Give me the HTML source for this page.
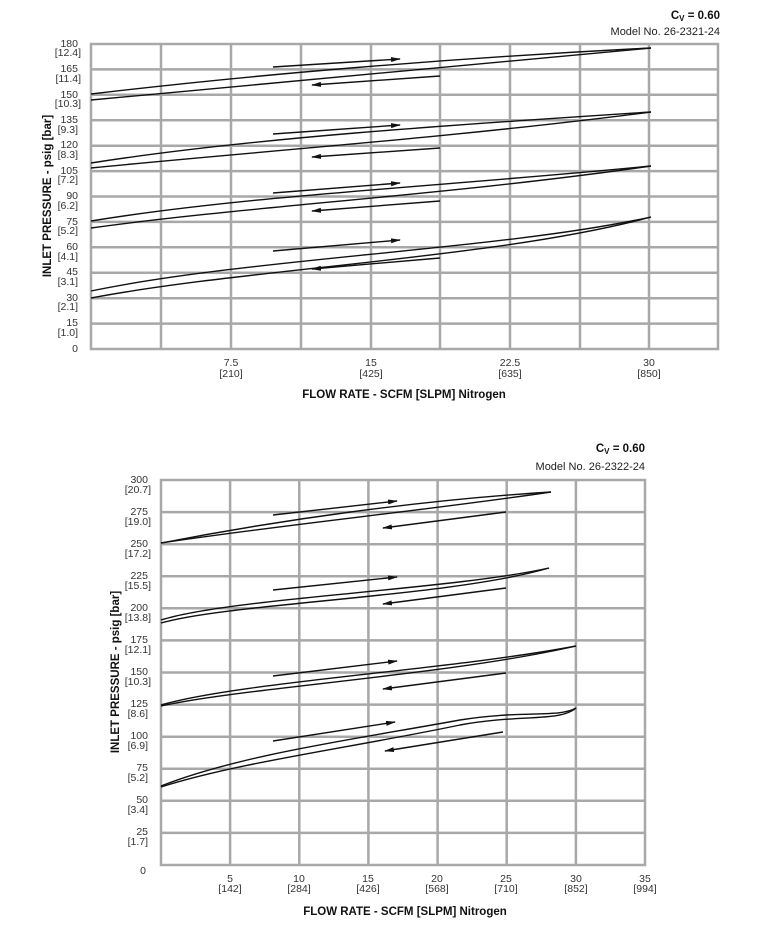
<!DOCTYPE html>
<html><head><meta charset="utf-8"><style>
html,body{margin:0;padding:0;background:#fff;}
svg{display:block;font-family:"Liberation Sans",Arial,sans-serif;}
.g{stroke:#a8a8a8;stroke-width:2.5;fill:none}
.c{stroke:#111;stroke-width:1.4;fill:none}
.t{font-size:10.5px;fill:#333;text-anchor:end}
.x{font-size:10.5px;fill:#333;text-anchor:middle}
.b{font-weight:bold;font-size:11.5px;fill:#111}
</style></head><body>
<svg width="765" height="951" viewBox="0 0 765 951">
<defs><marker id="a" markerWidth="10" markerHeight="6" refX="9" refY="3" orient="auto" markerUnits="userSpaceOnUse"><path d="M0,0.5 L10,3 L0,5.5 Z" fill="#111"/></marker></defs>

<!-- TOP CHART -->
<text x="720" y="19" class="b" text-anchor="end">C<tspan font-size="8" dy="2">V</tspan><tspan dy="-2"> = 0.60</tspan></text>
<text x="720" y="35" font-size="11" fill="#222" text-anchor="end">Model No. 26-2321-24</text>
<g class="g">
<rect x="91" y="44" width="627" height="305"/>
<path d="M161,44V349M231,44V349M301,44V349M371,44V349M440,44V349M510,44V349M580,44V349M649,44V349"/>
<path d="M91,69.4H718M91,94.8H718M91,120.2H718M91,145.7H718M91,171.1H718M91,196.5H718M91,221.9H718M91,247.3H718M91,272.7H718M91,298.2H718M91,323.6H718"/>
</g>
<g class="t">
<text x="78" y="47">180</text><text x="81" y="56">[12.4]</text>
<text x="78" y="72">165</text><text x="81" y="82">[11.4]</text>
<text x="78" y="98">150</text><text x="81" y="107">[10.3]</text>
<text x="78" y="123">135</text><text x="78" y="133">[9.3]</text>
<text x="78" y="148">120</text><text x="78" y="158">[8.3]</text>
<text x="78" y="174">105</text><text x="78" y="183">[7.2]</text>
<text x="78" y="199">90</text><text x="78" y="209">[6.2]</text>
<text x="78" y="225">75</text><text x="78" y="234">[5.2]</text>
<text x="78" y="250">60</text><text x="78" y="260">[4.1]</text>
<text x="78" y="275">45</text><text x="78" y="285">[3.1]</text>
<text x="78" y="301">30</text><text x="78" y="310">[2.1]</text>
<text x="78" y="326">15</text><text x="78" y="336">[1.0]</text>
<text x="78" y="352">0</text>
</g>
<g class="x">
<text x="231" y="366">7.5</text><text x="231" y="377">[210]</text>
<text x="371" y="366">15</text><text x="371" y="377">[425]</text>
<text x="510" y="366">22.5</text><text x="510" y="377">[635]</text>
<text x="649" y="366">30</text><text x="649" y="377">[850]</text>
</g>
<text x="404" y="398" class="b" text-anchor="middle">FLOW RATE - SCFM [SLPM] Nitrogen</text>
<text transform="translate(51,196) rotate(-90)" class="b" text-anchor="middle">INLET PRESSURE - psig [bar]</text>
<g class="c">
<path d="M91,94 C250,75 450,58 651,48"/><path d="M91,100 C250,84 450,66 651,48"/>
<path d="M91,163 C250,138 450,125 651,112"/><path d="M91,168 C250,152 450,138 651,112"/>
<path d="M91,221 C250,195 450,186 651,166"/><path d="M91,228 C250,206 450,195 651,166"/>
<path d="M91,291 C250,258 500,250 651,217"/><path d="M91,298 C250,268 500,258 651,217"/>
<g marker-end="url(#a)">
<path d="M273,67L400,59"/><path d="M440,76L312,85"/>
<path d="M273,134L400,125"/><path d="M440,148L312,157"/>
<path d="M273,193L400,183"/><path d="M440,201L312,211"/>
<path d="M273,251L400,240"/><path d="M440,258L312,269"/>
</g></g>

<!-- BOTTOM CHART -->
<text x="645" y="452" class="b" text-anchor="end">C<tspan font-size="8" dy="2">V</tspan><tspan dy="-2"> = 0.60</tspan></text>
<text x="645" y="470" font-size="11" fill="#222" text-anchor="end">Model No. 26-2322-24</text>
<g class="g">
<rect x="161" y="480" width="484" height="385"/>
<path d="M230.1,480V865M299.3,480V865M368.4,480V865M437.6,480V865M506.7,480V865M575.9,480V865"/>
<path d="M161,512.1H645M161,544.2H645M161,576.3H645M161,608.3H645M161,640.4H645M161,672.5H645M161,704.6H645M161,736.7H645M161,768.8H645M161,800.8H645M161,832.9H645"/>
</g>
<g class="t">
<text x="148" y="483">300</text><text x="151" y="493">[20.7]</text>
<text x="148" y="515">275</text><text x="151" y="525">[19.0]</text>
<text x="148" y="547">250</text><text x="151" y="557">[17.2]</text>
<text x="148" y="579">225</text><text x="151" y="589">[15.5]</text>
<text x="148" y="611">200</text><text x="151" y="621">[13.8]</text>
<text x="148" y="643">175</text><text x="151" y="653">[12.1]</text>
<text x="148" y="675">150</text><text x="151" y="685">[10.3]</text>
<text x="148" y="707">125</text><text x="148" y="717">[8.6]</text>
<text x="148" y="739">100</text><text x="148" y="749">[6.9]</text>
<text x="148" y="771">75</text><text x="148" y="781">[5.2]</text>
<text x="148" y="803">50</text><text x="148" y="813">[3.4]</text>
<text x="148" y="835">25</text><text x="148" y="845">[1.7]</text>
<text x="146" y="874">0</text>
</g>
<g class="x">
<text x="230" y="882">5</text><text x="230" y="892">[142]</text>
<text x="299" y="882">10</text><text x="299" y="892">[284]</text>
<text x="368" y="882">15</text><text x="368" y="892">[426]</text>
<text x="437" y="882">20</text><text x="437" y="892">[568]</text>
<text x="506" y="882">25</text><text x="506" y="892">[710]</text>
<text x="576" y="882">30</text><text x="576" y="892">[852]</text>
<text x="645" y="882">35</text><text x="645" y="892">[994]</text>
</g>
<text x="405" y="915" class="b" text-anchor="middle">FLOW RATE - SCFM [SLPM] Nitrogen</text>
<text transform="translate(119,672) rotate(-90)" class="b" text-anchor="middle">INLET PRESSURE - psig [bar]</text>
<g class="c">
<path d="M161,543 C280,520 420,500 551,492"/><path d="M161,543 C280,525 430,510 551,492"/>
<path d="M161,620 C230,598 450,590 549,568"/><path d="M161,623 C230,603 450,597 549,568"/>
<path d="M161,705 C240,682 450,670 576,646"/><path d="M161,706 C240,688 450,675 576,646"/>
<path d="M161,786 C240,755 350,740 460,720 C520,710 560,718 576,708"/><path d="M161,787 C240,762 350,748 460,725 C520,714 560,722 576,708"/>
<g marker-end="url(#a)">
<path d="M273,515L397,501"/><path d="M506,512L383,528"/>
<path d="M273,590L397,577"/><path d="M506,588L383,604"/>
<path d="M273,676L397,661"/><path d="M506,673L383,689"/>
<path d="M273,741L395,722"/><path d="M503,732L385,751"/>
</g></g>
</svg>
</body></html>
